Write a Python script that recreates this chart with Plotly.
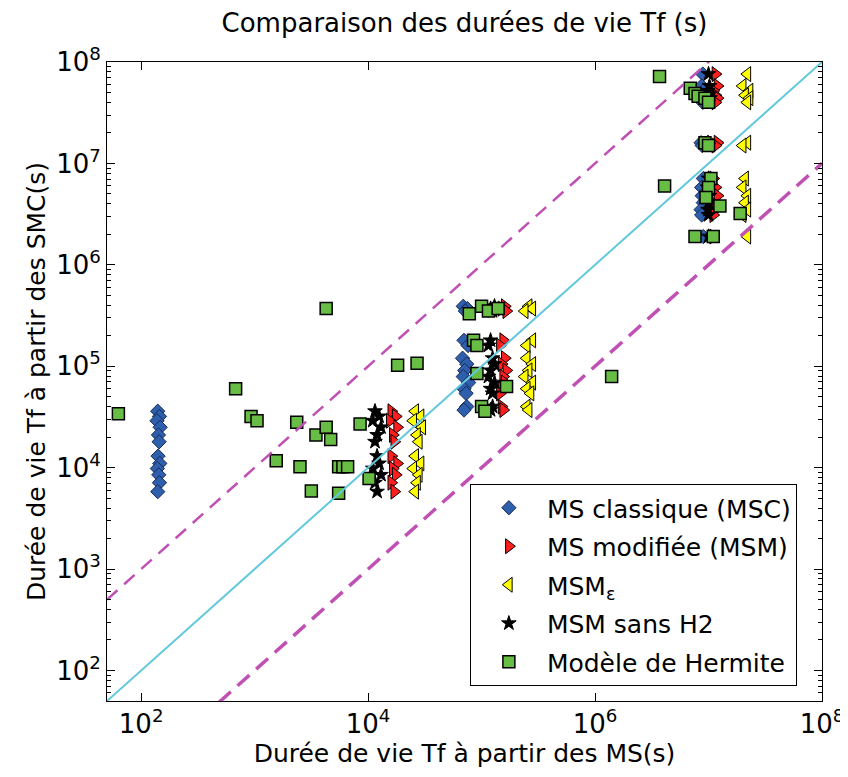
import plotly.graph_objects as go

# Valeurs (durées de vie en secondes)
# MS classique (MSC)
msc_x = [140, 145, 138, 147, 142, 144, 141, 146, 139, 143, 145, 140,
         6.9e4, 7.5e4, 7.2e4, 7.0e4, 7.6e4, 6.8e4, 7.4e4, 7.1e4, 6.9e4, 7.7e4, 7.0e4, 7.3e4, 7.4e4, 7.0e4,
         8.9e6, 8.7e6, 9.0e6, 8.8e6, 9.1e6, 8.9e6, 8.6e6, 8.8e6, 9.0e6, 8.7e6, 8.8e6, 9.0e6, 8.6e6, 8.7e6, 9.0e6]
msc_y = [3.6e4, 3.2e4, 2.9e4, 2.5e4, 2.1e4, 1.8e4, 1.3e4, 1.1e4, 9.8e3, 8.5e3, 7.1e3, 5.8e3,
         3.9e5, 3.7e5, 3.5e5, 1.8e5, 1.6e5, 1.2e5, 1.05e5, 9.1e4, 7.9e4, 6.9e4, 6.0e4, 5.4e4, 4.0e4, 3.7e4,
         7.6e7, 5.8e7, 5.2e7, 4.7e7, 4.4e7, 4.0e7, 1.6e7, 1.5e7, 7.1e6, 5.8e6, 4.8e6, 4.1e6, 3.5e6, 3.1e6, 1.9e6]

# MS modifiée (MSM)
msm_x = [1.6e4, 1.75e4, 1.55e4, 1.8e4, 1.65e4, 1.7e4, 1.6e4, 1.8e4, 1.65e4, 1.75e4, 1.6e4, 1.7e4,
         1.6e5, 1.5e5, 1.65e5, 1.55e5, 1.45e5, 1.6e5, 1.5e5, 1.65e5, 1.55e5, 1.6e5, 1.5e5, 1.45e5, 1.5e5, 1.55e5,
         1.15e7, 1.2e7, 1.1e7, 1.15e7, 1.2e7, 1.15e7, 1.2e7, 1.15e7, 1.1e7, 1.15e7, 1.2e7, 1.1e7, 1.15e7, 1.1e7, 1.1e7]
msm_y = msc_y

# MSM epsilon
mse_x = [2.6e4, 2.9e4, 2.5e4, 3.0e4, 2.7e4, 2.8e4, 2.6e4, 2.9e4, 2.5e4, 2.8e4, 2.7e4, 2.6e4,
         2.6e5, 2.8e5, 2.4e5, 2.8e5, 2.5e5, 2.5e5, 2.8e5, 2.6e5, 2.4e5, 2.8e5, 2.5e5, 2.7e5, 2.5e5, 2.6e5,
         2.2e7, 2.0e7, 2.3e7, 2.1e7, 2.3e7, 2.2e7, 2.2e7, 2.0e7, 2.1e7, 2.0e7, 2.2e7, 2.1e7, 2.2e7, 2.0e7, 2.2e7]
mse_y = msc_y

# MSM sans H2
sh2_x = [1.15e4, 1.25e4, 1.1e4, 1.3e4, 1.2e4, 1.15e4, 1.2e4, 1.25e4, 1.1e4, 1.3e4, 1.15e4, 1.2e4,
         1.3e5, 1.2e5, 1.25e5, 1.2e5, 1.15e5, 1.25e5, 1.3e5, 1.2e5, 1.15e5, 1.3e5, 1.2e5, 1.25e5, 1.25e5, 1.2e5,
         1.0e7, 1.02e7, 9.8e6, 1.0e7, 1.03e7, 1.0e7, 9.9e6, 1.0e7, 1.0e7, 9.8e6, 1.02e7, 1.0e7, 9.9e6, 1.0e7, 1.0e7]
sh2_y = msc_y

# Modèle de Hermite
her_x = [63, 680, 930, 1050, 2350, 3470, 4270, 4680, 8500, 1550, 2510, 3160, 5500, 6000, 6600, 5500, 1.02e4,
         4270, 1.82e4, 2.7e4,
         7.8e4, 1.0e5, 1.15e5, 1.4e5, 8.5e4, 9.1e4, 9.1e4, 1.66e5, 1.0e5, 1.07e5, 1.4e6,
         3.7e6, 6.9e6, 7.6e6, 8.1e6, 9.3e6, 1.0e7, 9.3e6, 1.0e7, 1.05e7, 1.0e7, 9.5e6, 1.26e7, 1.9e7, 4.1e6,
         7.6e6, 1.1e7]
her_y = [3.4e4, 6.0e4, 3.2e4, 2.9e4, 2.8e4, 2.1e4, 2.5e4, 1.9e4, 2.7e4, 1.17e4, 1.02e4, 5.9e3, 1.02e4, 1.02e4,
         1.02e4, 5.6e3, 7.8e3,
         3.7e5, 1.02e5, 1.07e5,
         3.3e5, 3.9e5, 3.5e5, 3.7e5, 1.8e5, 1.6e5, 8.5e4, 6.3e4, 4.0e4, 3.6e4, 7.9e4,
         7.2e7, 5.5e7, 4.9e7, 4.6e7, 4.4e7, 4.0e7, 1.6e7, 1.5e7, 7.1e6, 5.8e6, 4.6e6, 3.8e6, 3.2e6, 6.0e6,
         1.9e6, 1.9e6]

# bornes des droites de référence
ref_x = [50, 1e8]

font = "DejaVu Sans, Arial, sans-serif"
fig = go.Figure()

# Nuages de points
fig.add_trace(go.Scatter(x=msc_x, y=msc_y, mode="markers", name="MS classique (MSC)", legendgroup="a",
                         marker=dict(symbol="diamond", size=11, color="#2E5FAD",
                                     line=dict(color="#1a2a55", width=1))))
fig.add_trace(go.Scatter(x=msm_x, y=msm_y, mode="markers", name="MS modifiée (MSM)", legendgroup="b",
                         marker=dict(symbol="triangle-right", size=13, color="#FF1E1E",
                                     line=dict(color="black", width=1))))
fig.add_trace(go.Scatter(x=mse_x, y=mse_y, mode="markers", name="MSM<sub>ε</sub>", legendgroup="c",
                         marker=dict(symbol="triangle-left", size=13, color="#FFFF00",
                                     line=dict(color="black", width=1))))
fig.add_trace(go.Scatter(x=sh2_x, y=sh2_y, mode="markers", name="MSM sans H2", legendgroup="d",
                         marker=dict(symbol="star", size=11, color="black",
                                     line=dict(color="black", width=1))))
fig.add_trace(go.Scatter(x=her_x, y=her_y, mode="markers", name="Modèle de Hermite", legendgroup="e",
                         marker=dict(symbol="square", size=12, color="#68BD45",
                                     line=dict(color="black", width=1.5))))

# Droites y = x, y = 10x, y = x/10
fig.add_trace(go.Scatter(x=ref_x, y=[v * 10 for v in ref_x], mode="lines", showlegend=False,
                         line=dict(color="#C050B4", width=2.5, dash="14px,9px")))
fig.add_trace(go.Scatter(x=ref_x, y=ref_x, mode="lines", showlegend=False,
                         line=dict(color="#62C9DD", width=2)))
fig.add_trace(go.Scatter(x=ref_x, y=[v / 10 for v in ref_x], mode="lines", showlegend=False,
                         line=dict(color="#C050B4", width=3.5, dash="16px,9px")))

minor_vals = [k * 10 ** n for n in range(1, 8) for k in range(2, 10)]

fig.update_layout(
    width=848, height=777,
    margin=dict(l=99, r=18, t=54, b=84),
    plot_bgcolor="white", paper_bgcolor="white",
    font=dict(family=font, color="black", size=22),
    title=dict(text="Comparaison des durées de vie Tf (s)", x=0.5, xref="paper",
               y=1 - 6 / 777, yanchor="top", font=dict(size=26)),
    legend=dict(x=(470 - 99) / 731, y=(693 - 476) / 639, xanchor="left", yanchor="top",
                bordercolor="black", borderwidth=1, bgcolor="white",
                font=dict(size=25), tracegroupgap=3, itemwidth=66),
)

fig.update_xaxes(type="log", range=[1.699, 8],
                 tickvals=[1e2, 1e4, 1e6, 1e8],
                 ticktext=["10<sup>2</sup>", "10<sup>4</sup>", "10<sup>6</sup>", "10<sup>8</sup>"],
                 ticks="inside", ticklen=8, tickcolor="black", tickfont=dict(size=26),
                 ticklabeloverflow="allow",
                 showline=True, linecolor="black", linewidth=1, mirror="ticks",
                 showgrid=False, zeroline=False,
                 title=dict(text="Durée de vie Tf à partir des MS(s)", font=dict(size=25), standoff=6))

fig.update_yaxes(type="log", range=[1.699, 8],
                 tickvals=[1e2, 1e3, 1e4, 1e5, 1e6, 1e7, 1e8],
                 ticktext=["10<sup>%d</sup>" % n for n in range(2, 9)],
                 ticks="inside", ticklen=8, tickcolor="black", tickfont=dict(size=26),
                 minor=dict(tickmode="array", tickvals=minor_vals, ticks="inside", ticklen=4,
                            tickcolor="black", showgrid=False),
                 showline=True, linecolor="black", linewidth=1, mirror="ticks",
                 showgrid=False, zeroline=False,
                 title=dict(text="Durée de vie Tf à partir des SMC(s)", font=dict(size=25), standoff=3))

fig.write_html("out.html")
